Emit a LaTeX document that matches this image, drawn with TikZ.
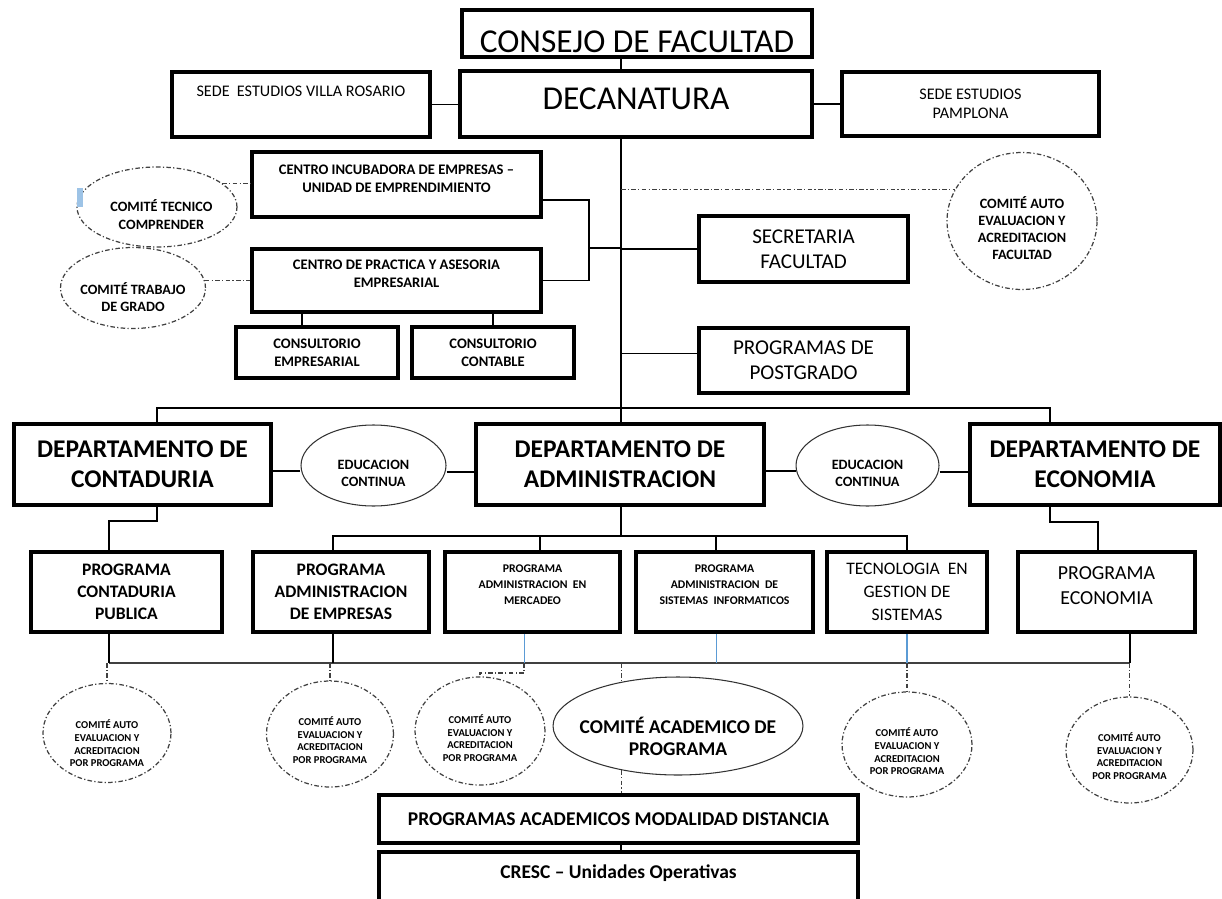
\documentclass[tikz,border=0pt]{standalone}
\usepackage{fontspec}
\setmainfont{Carlito}
\usetikzlibrary{shapes.geometric, positioning}
\definecolor{linkblue}{RGB}{91,155,213}
\definecolor{handle}{RGB}{157,195,230}
\tikzstyle{box} = [draw, rectangle, line width=2.2pt, inner sep=0pt, align=center]
\tikzstyle{oval} = [draw=black!80, ellipse, line width=0.6pt, inner sep=0pt, align=center]
\tikzstyle{comite} = [draw=black!75, ellipse, line width=0.7pt, dash pattern=on 2.6pt off 1.3pt on 0.7pt off 1.3pt, inner sep=0pt, align=center]
\tikzstyle{link} = [line width=0.8pt]
\tikzstyle{bus} = [line width=1pt, black!75]
\tikzstyle{bluelink} = [line width=0.6pt, linkblue]
\tikzstyle{dashlink} = [line width=0.7pt, black!75, dash pattern=on 2.6pt off 1.3pt on 0.7pt off 1.3pt]
\tikzstyle{ftitle} = [font=\fontsize{19}{22}\selectfont, align=center]
\tikzstyle{fdept} = [font=\bfseries\fontsize{14.5}{17}\selectfont, align=center]
\tikzstyle{fsec} = [font=\fontsize{12}{14.2}\selectfont, align=center]
\tikzstyle{fsede} = [font=\fontsize{9.2}{10.8}\selectfont, align=center]
\tikzstyle{fcentro} = [font=\bfseries\fontsize{8.3}{10}\selectfont, align=center]
\tikzstyle{fprog} = [font=\bfseries\fontsize{10}{12.5}\selectfont, align=center]
\tikzstyle{ftec} = [font=\fontsize{10}{13}\selectfont, align=center]
\tikzstyle{fecon} = [font=\fontsize{11.3}{14}\selectfont, align=center]
\tikzstyle{fmini} = [font=\bfseries\fontsize{6.7}{9}\selectfont, align=center]
\tikzstyle{fcom} = [font=\bfseries\fontsize{8.1}{9.7}\selectfont, align=center]
\tikzstyle{ftiny} = [font=\bfseries\fontsize{6}{7.2}\selectfont, align=center]
\tikzstyle{facad} = [font=\bfseries\fontsize{11.1}{12.5}\selectfont, align=center]

\begin{document}
\begin{tikzpicture}[x=0.02cm, y=-0.02cm]
    \useasboundingbox (0,0) rectangle (1222,898);

    % Trunk and buses.
    \coordinate (trunk) at (621,0);
    \coordinate (brk) at (589,248);
    \coordinate (busL) at (157,408);
    \coordinate (busR) at (1050,408);
    \coordinate (subL) at (333,536);
    \coordinate (botL) at (109,663);
    \coordinate (botR) at (1130,663);

    % Top.
    \node (consejo) [box, minimum width=7cm, minimum height=0.94cm, label={[ftitle, yshift=-4.5pt]center:CONSEJO DE FACULTAD}] at (637,33.5) {};
    \node (decanatura) [box, minimum width=7.04cm, minimum height=1.32cm, label={[ftitle, yshift=3pt]center:DECANATURA}] at (636,104) {};
    \node (villa) [box, minimum width=5.16cm, minimum height=1.3cm, label={[fsede, yshift=7.7pt]center:SEDE\ \ ESTUDIOS VILLA ROSARIO}] at (301,104.5) {};
    \node (pamplona) [box, fsede, minimum width=5.14cm, minimum height=1.28cm] at (970.5,104) {SEDE ESTUDIOS\\PAMPLONA};

    % Centros.
    \node (incub) [box, minimum width=5.78cm, minimum height=1.3cm, label={[fcentro, yshift=3.4pt]center:{CENTRO INCUBADORA DE EMPRESAS –\\UNIDAD DE EMPRENDIMIENTO}}] at (396.5,184.5) {};
    \node (practica) [box, minimum width=5.78cm, minimum height=1.26cm, label={[fcentro, yshift=3.7pt]center:{CENTRO DE PRACTICA Y ASESORIA\\EMPRESARIAL}}] at (396.5,280.5) {};
    \node (consemp) [box, fcentro, minimum width=3.24cm, minimum height=1.02cm] at (317,352.5) {CONSULTORIO\\EMPRESARIAL};
    \node (conscont) [box, fcentro, minimum width=3.24cm, minimum height=1.02cm] at (493,352.5) {CONSULTORIO\\CONTABLE};
    \node (tecnico) [comite, minimum width=3.2cm, minimum height=1.6cm, label={[fcom, xshift=2.5pt, yshift=-4.3pt]center:{COMITÉ TECNICO\\COMPRENDER}}] at (157,207) {};
    \node (trabajo) [comite, minimum width=2.9cm, minimum height=1.62cm, label={[fcom, yshift=-5pt]center:{COMITÉ TRABAJO\\DE GRADO}}] at (133,288) {};
    \fill [handle] (77,188) rectangle (83,207);

    % Staff.
    \node (secretaria) [box, fsec, minimum width=4.18cm, minimum height=1.32cm] at (803.5,249) {SECRETARIA\\FACULTAD};
    \node (postgrado) [box, fsec, minimum width=4.18cm, minimum height=1.3cm] at (803.5,360.5) {PROGRAMAS DE\\POSTGRADO};
    \node (facultad) [comite, minimum width=3cm, minimum height=2.74cm, label={[fcom, yshift=-4pt]center:{COMITÉ AUTO\\EVALUACION Y\\ACREDITACION\\FACULTAD}}] at (1022,221) {};

    % Departments.
    \node (cont) [box, fdept, minimum width=5.14cm, minimum height=1.62cm] at (142.5,464.5) {DEPARTAMENTO DE\\CONTADURIA};
    \node (admin) [box, fdept, minimum width=5.76cm, minimum height=1.62cm] at (620,464.5) {DEPARTAMENTO DE\\ADMINISTRACION};
    \node (econ) [box, fdept, minimum width=5cm, minimum height=1.62cm] at (1095,464.5) {DEPARTAMENTO DE\\ECONOMIA};
    \node (edu1) [oval, minimum width=2.9cm, minimum height=1.62cm, label={[fcom, yshift=-4.5pt]center:{EDUCACION\\CONTINUA}}] at (373.5,465.5) {};
    \node (edu2) [oval, minimum width=2.86cm, minimum height=1.62cm, label={[fcom, yshift=-4.5pt]center:{EDUCACION\\CONTINUA}}] at (867.5,465.5) {};

    % Programs.
    \node (pcont) [box, fprog, minimum width=3.82cm, minimum height=1.6cm] at (126.5,592) {PROGRAMA\\CONTADURIA\\PUBLICA};
    \node (pemp) [box, fprog, minimum width=3.52cm, minimum height=1.6cm] at (341,592) {PROGRAMA\\ADMINISTRACION\\DE EMPRESAS};
    \node (pmerc) [box, minimum width=3.5cm, minimum height=1.6cm, label={[fmini, yshift=4pt]center:{PROGRAMA\\ADMINISTRACION\ \ EN\\MERCADEO}}] at (532.5,592) {};
    \node (psis) [box, minimum width=3.54cm, minimum height=1.6cm, label={[fmini, yshift=4pt]center:{PROGRAMA\\ADMINISTRACION\ \ DE\\SISTEMAS\ \ INFORMATICOS}}] at (724.5,592) {};
    \node (ptec) [box, ftec, minimum width=3.2cm, minimum height=1.6cm] at (907,592) {TECNOLOGIA\ \ EN\\GESTION DE\\SISTEMAS};
    \node (pecon) [box, minimum width=3.54cm, minimum height=1.6cm, label={[fecon, yshift=3.7pt]center:{PROGRAMA\\ECONOMIA}}] at (1106.5,592) {};

    % Committees.
    \node (c1) [comite, minimum width=2.56cm, minimum height=1.98cm, label={[ftiny, yshift=-6pt]center:{COMITÉ AUTO\\EVALUACION Y\\ACREDITACION\\POR PROGRAMA}}] at (107,733) {};
    \node (c2) [comite, minimum width=2.54cm, minimum height=2.12cm, label={[ftiny, yshift=-3.4pt]center:{COMITÉ AUTO\\EVALUACION Y\\ACREDITACION\\POR PROGRAMA}}] at (330,734) {};
    \node (c3) [comite, minimum width=2.6cm, minimum height=2.16cm, label={[ftiny, yshift=-4pt]center:{COMITÉ AUTO\\EVALUACION Y\\ACREDITACION\\POR PROGRAMA}}] at (480,731) {};
    \node (acad) [oval, minimum width=5cm, minimum height=1.96cm, label={[facad, yshift=-5.7pt]center:{COMITÉ ACADEMICO DE\\PROGRAMA}}] at (678,726) {};
    \node (c5) [comite, minimum width=2.6cm, minimum height=2.1cm, label={[ftiny, yshift=-4pt]center:{COMITÉ AUTO\\EVALUACION Y\\ACREDITACION\\POR PROGRAMA}}] at (907,744.5) {};
    \node (c6) [comite, minimum width=2.54cm, minimum height=2.12cm, label={[ftiny, yshift=-3.4pt]center:{COMITÉ AUTO\\EVALUACION Y\\ACREDITACION\\POR PROGRAMA}}] at (1129.5,750) {};

    % Distance.
    \node (modal) [box, facad, minimum width=9.58cm, minimum height=0.96cm] at (618.5,819) {PROGRAMAS ACADEMICOS MODALIDAD DISTANCIA};
    \node (cresc) [box, minimum width=9.58cm, minimum height=1.06cm, label={[facad, yshift=3pt]center:CRESC – Unidades Operativas}] at (618.5,878.5) {};

    % Arrows.
    \draw [link] (consejo.south -| trunk) -- (decanatura.north -| trunk);
    \draw [link] (villa.east) -- (villa.east -| decanatura.west);
    \draw [link] (decanatura.east) -- (decanatura.east -| pamplona.west);
    \draw [link] (decanatura.south -| trunk) -- (admin.north -| trunk);
    \draw [link] ([yshift=-8.8pt]incub.east) -| (brk) |- (practica.east);
    \draw [link] (brk) -- (brk -| trunk);
    \draw [link] ([xshift=-8.5pt]consemp.north) -- ([xshift=-8.5pt]consemp.north |- practica.south);
    \draw [link] (conscont.north) -- (conscont.north |- practica.south);
    \draw [link] (secretaria.west) -- (secretaria.west -| trunk);
    \draw [link] ([yshift=4pt]postgrado.west) -- ([yshift=4pt]postgrado.west -| trunk);
    \draw [link] (cont.north -| busL) |- (busR) -- (econ.north -| busR);

    \foreach \a/\b in {cont/edu1, edu1/admin, admin/edu2, edu2/econ} {
        \draw [link] ([yshift=-3.7pt]\a.east) -- ([yshift=-3.7pt]\a.east -| \b.west);
    }

    \draw [link] (cont.south -| busL) -- ++(0,14) -| (pcont.north -| botL);
    \draw [link] (econ.south -| busR) -- ++(0,15) -| ([xshift=-4.8pt]pecon.north);
    \draw [link] (admin.south -| trunk) -- (subL -| trunk);
    \draw [link] (pemp.north -| subL) |- (ptec.north |- subL) -- (ptec.north);
    \draw [link] ([xshift=4.3pt]pmerc.north) -- ([xshift=4.3pt]pmerc.north |- subL);
    \draw [link] ([xshift=-4.8pt]psis.north) -- ([xshift=-4.8pt]psis.north |- subL);

    \draw [bus] (botL) -- (botR);
    \draw [link] (pcont.south -| botL) -- (botL);
    \draw [link] (pemp.south -| subL) -- (botL -| subL);
    \draw [bluelink] ([xshift=-4.8pt]pmerc.south) -- ([xshift=-4.8pt]pmerc.south |- botL);
    \draw [bluelink] ([xshift=-4.8pt]psis.south) -- ([xshift=-4.8pt]psis.south |- botL);
    \draw [bluelink] (ptec.south) -- (ptec.south |- botL);
    \draw [link] (pecon.south -| botR) -- (botR);

    \draw [dashlink] (tecnico.20) -- (tecnico.20 -| incub.west);
    \draw [dashlink] (trabajo.6) -- (trabajo.6 -| practica.west);
    \draw [dashlink] (facultad.155 -| trunk) -- (facultad.155);
    \draw [dashlink] (c1.north |- botL) -- (c1.north);
    \draw [dashlink] (c2.north |- botL) -- (c2.north);
    \draw [dashlink] ([xshift=-4.8pt]pmerc.south |- botL) -- ++(0,10) -| (c3.north);
    \draw [dashlink] (acad.142 |- botL) -- (acad.142);
    \draw [dashlink] (acad.218) -- (acad.218 |- modal.north);
    \draw [dashlink] (c5.north |- botL) -- (c5.north);
    \draw [dashlink] (c6.north |- botL) -- (c6.north);
    \draw [link] (modal.south -| trunk) -- (cresc.north -| trunk);
\end{tikzpicture}
\end{document}
